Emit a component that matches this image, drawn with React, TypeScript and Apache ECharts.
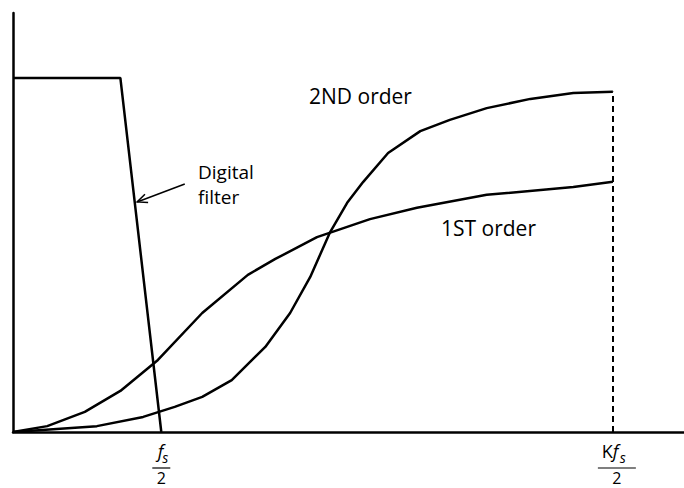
import React, { useEffect, useRef } from "react";
import * as echarts from "echarts";

// x: frequency (arbitrary units, 0..100), y: response (0..100)
const firstOrder: [number, number][] = [
  [0, 0], [5.1, 1.4], [10.7, 4.8], [16.0, 9.8], [21.6, 17.2], [28.2, 28.4],
  [35.0, 37.5], [39.1, 41.3], [45.3, 46.5], [47.5, 47.7], [53.2, 50.8],
  [60.2, 53.5], [70.6, 56.6], [83.5, 58.5], [89.4, 59.7],
];
const secondOrder: [number, number][] = [
  [0, 0], [12.5, 1.4], [19.4, 3.6], [24.1, 6.0], [28.2, 8.4], [32.6, 12.4],
  [37.6, 20.3], [41.3, 28.4], [44.3, 37.0], [47.2, 47.5], [49.8, 54.7],
  [52.2, 59.7], [55.9, 66.6], [60.7, 71.8], [65.1, 74.5], [70.6, 77.3],
  [77.1, 79.5], [83.5, 80.9], [89.4, 81.2],
];
const digitalFilter: [number, number][] = [[0, 84.5], [16.0, 84.5], [22.1, 0]];
const halfFs = 22.1;
const kHalfFs = 89.4;
const arrowStart: [number, number] = [25.6, 59.2];
const arrowEnd: [number, number] = [18.5, 54.9];

const FONT = "'Open Sans', 'Noto Sans', sans-serif";
const BLACK = "#000";

export default function App() {
  const ref = useRef<HTMLDivElement>(null);
  useEffect(() => {
    document.body.style.margin = "0";
    if (!ref.current) return;
    const chart = echarts.init(ref.current, undefined, { renderer: "svg" });
    const lineStyle = { color: BLACK, width: 2.5 };
    chart.setOption({
      animation: false,
      backgroundColor: "#fff",
      grid: { left: 13, right: 0, top: 13, bottom: 56 },
      xAxis: {
        type: "value", min: 0, max: 100,
        axisLine: { show: true, onZero: false, lineStyle: { color: BLACK, width: 2.5 } },
        axisTick: { show: false }, axisLabel: { show: false }, splitLine: { show: false },
      },
      yAxis: {
        type: "value", min: 0, max: 100,
        axisLine: { show: true, onZero: false, lineStyle: { color: BLACK, width: 2.5 } },
        axisTick: { show: false }, axisLabel: { show: false }, splitLine: { show: false },
      },
      series: [
        {
          name: "1ST order", type: "line", data: firstOrder, symbol: "none",
          lineStyle, itemStyle: { color: BLACK }, smooth: false,
        },
        {
          name: "2ND order", type: "line", data: secondOrder, symbol: "none",
          lineStyle, itemStyle: { color: BLACK }, smooth: false,
          markLine: {
            silent: true, symbol: ["none", "none"], label: { show: false },
            lineStyle: { color: BLACK, width: 2, type: [6, 4] },
            data: [[{ coord: [kHalfFs, 0] }, { coord: [kHalfFs, secondOrder[secondOrder.length - 1][1]] }]],
          },
        },
        {
          name: "Digital filter", type: "line", data: digitalFilter, symbol: "none",
          lineStyle, itemStyle: { color: BLACK },
          markLine: {
            silent: true, symbol: ["none", "none"], label: { show: false },
            lineStyle: { color: BLACK, width: 1.5, type: "solid" },
            data: [[{ coord: arrowStart }, { coord: arrowEnd }]],
          },
        },
      ],
    });

    const px = (p: [number, number]) => chart.convertToPixel({ gridIndex: 0 }, p) as number[];
    const a0 = px(arrowStart);
    const a1 = px(arrowEnd);
    const dx = a0[0] - a1[0], dy = a0[1] - a1[1];
    const len = Math.hypot(dx, dy);
    const ux = dx / len, uy = dy / len;
    const hl = 11, ang = (24 * Math.PI) / 180;
    const rot = (c: number, s: number) => [ux * c - uy * s, ux * s + uy * c];
    const r1 = rot(Math.cos(ang), Math.sin(ang));
    const r2 = rot(Math.cos(-ang), Math.sin(-ang));

    const xFs = px([halfFs, 0])[0];
    const xK = px([kHalfFs, 0])[0] + 4;
    const txt = (x: number, y: number, text: string, font: string, align: string, va: string, lh = 17) => ({
      type: "text", x, y, style: { text, font, fill: BLACK, align, verticalAlign: va, lineHeight: lh },
    });

    chart.setOption({
      graphic: [
        {
          type: "polyline",
          shape: { points: [[a1[0] + r1[0] * hl, a1[1] + r1[1] * hl], [a1[0], a1[1]], [a1[0] + r2[0] * hl, a1[1] + r2[1] * hl]] },
          style: { stroke: BLACK, lineWidth: 1.5, fill: null },
        },
        { type: "text", left: 198, top: 162, style: { text: "Digital", font: `19px ${FONT}`, fill: BLACK, lineHeight: 19 } },
        { type: "text", left: 198, top: 187, style: { text: "filter", font: `19px ${FONT}`, fill: BLACK, lineHeight: 19 } },
        { type: "text", left: 309, top: 85, style: { text: "2ND order", font: `21px ${FONT}`, fill: BLACK } },
        { type: "text", left: 441, top: 217, style: { text: "1ST order", font: `21px ${FONT}`, fill: BLACK } },
        // f_s / 2
        txt(xFs + 2, 459, "f", `italic 18px ${FONT}`, "right", "bottom"),
        txt(xFs + 1, 466, "s", `italic 14px ${FONT}`, "left", "bottom"),
        { type: "line", shape: { x1: xFs - 9, y1: 468, x2: xFs + 9, y2: 468 }, style: { stroke: BLACK, lineWidth: 1.2 } },
        txt(xFs, 470, "2", `16px ${FONT}`, "center", "top", 16),
        // K f_s / 2
        txt(xK - 4, 459, "K", `18px ${FONT}`, "right", "bottom"),
        txt(xK - 4, 459, "f", `italic 18px ${FONT}`, "left", "bottom"),
        txt(xK + 3, 466, "s", `italic 14px ${FONT}`, "left", "bottom"),
        { type: "line", shape: { x1: xK - 19, y1: 468, x2: xK + 19, y2: 468 }, style: { stroke: BLACK, lineWidth: 1.2 } },
        txt(xK, 470, "2", `16px ${FONT}`, "center", "top", 16),
      ],
    });

    return () => chart.dispose();
  }, []);
  return <div ref={ref} style={{ width: 684, height: 488 }} />;
}
